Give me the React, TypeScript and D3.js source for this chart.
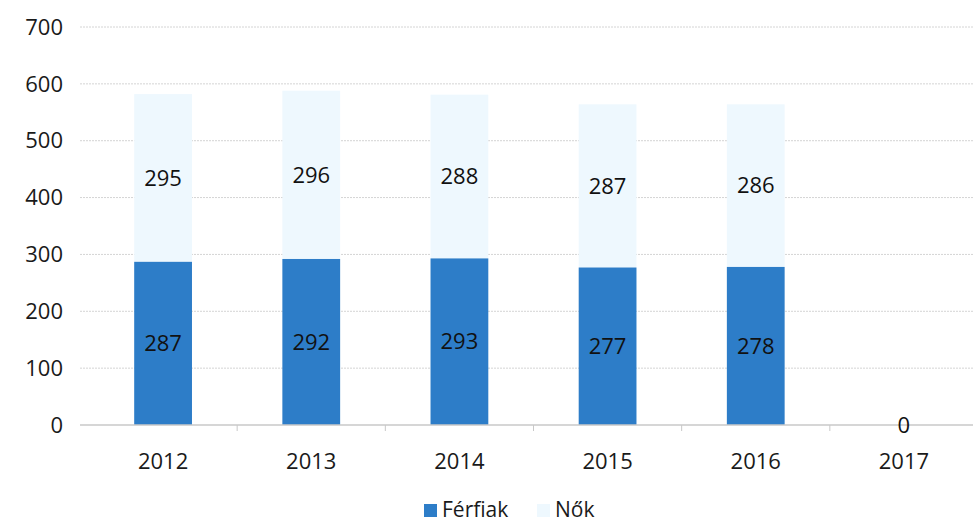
import React, { useEffect, useRef } from "react";
import * as d3 from "d3";

const years = ["2012", "2013", "2014", "2015", "2016", "2017"];
const ferfiak = [287, 292, 293, 277, 278, 0];
const nok = [295, 296, 288, 287, 286, 0];
const yTicks = [0, 100, 200, 300, 400, 500, 600, 700];

const App = () => {
  const svgRef = useRef<SVGSVGElement>(null);

  useEffect(() => {
    const dims = { width: 973, height: 525 };
    const font = "'Open Sans', sans-serif";
    const blue = "#2D7DC8";
    const light = "#EEF8FE";

    const x = d3.scaleBand<string>().domain(years).range([89, 978]).paddingInner(0.61).paddingOuter(0.305);
    const y = d3.scaleLinear().domain([0, 700]).range([425, 27]);

    const svg = d3.select(svgRef.current);
    svg.selectAll("*").remove();

    svg.append("rect").attr("width", dims.width).attr("height", dims.height).attr("fill", "#fff");

    // grid
    svg
      .append("g")
      .selectAll("line")
      .data(yTicks.filter((d) => d > 0))
      .join("line")
      .attr("x1", 80)
      .attr("x2", dims.width)
      .attr("y1", (d) => y(d))
      .attr("y2", (d) => y(d))
      .attr("stroke", "#d4d4d4")
      .attr("stroke-width", 1)
      .attr("stroke-dasharray", "2 1");

    // y labels
    svg
      .append("g")
      .selectAll("text")
      .data(yTicks)
      .join("text")
      .attr("x", 63)
      .attr("y", (d) => y(d))
      .attr("dy", "0.35em")
      .attr("text-anchor", "end")
      .attr("font-family", font)
      .attr("font-size", 22)
      .attr("fill", "#1a1a1a")
      .text((d) => d);

    const rows = years.map((yr, i) => ({ yr, f: ferfiak[i], n: nok[i] }));

    // bars
    const bars = svg.append("g");
    bars
      .selectAll("rect.nok")
      .data(rows)
      .join("rect")
      .attr("class", "nok")
      .attr("x", (d) => x(d.yr)!)
      .attr("width", x.bandwidth())
      .attr("y", (d) => y(d.f + d.n))
      .attr("height", (d) => y(d.f) - y(d.f + d.n))
      .attr("fill", light);
    bars
      .selectAll("rect.ferfi")
      .data(rows)
      .join("rect")
      .attr("class", "ferfi")
      .attr("x", (d) => x(d.yr)!)
      .attr("width", x.bandwidth())
      .attr("y", (d) => y(d.f))
      .attr("height", (d) => y(0) - y(d.f))
      .attr("fill", blue);

    // x axis
    const axis = svg.append("g");
    axis
      .append("line")
      .attr("x1", 80)
      .attr("x2", dims.width)
      .attr("y1", y(0))
      .attr("y2", y(0))
      .attr("stroke", "#c8c8c8")
      .attr("stroke-width", 1.5);
    axis
      .selectAll("line.tick")
      .data(years.slice(1))
      .join("line")
      .attr("class", "tick")
      .attr("x1", (d) => x(d)! - (x.step() - x.bandwidth()) / 2)
      .attr("x2", (d) => x(d)! - (x.step() - x.bandwidth()) / 2)
      .attr("y1", y(0))
      .attr("y2", y(0) + 6)
      .attr("stroke", "#c8c8c8");
    axis
      .selectAll("text")
      .data(years)
      .join("text")
      .attr("x", (d) => x(d)! + x.bandwidth() / 2)
      .attr("y", 461)
      .attr("dy", "0.35em")
      .attr("text-anchor", "middle")
      .attr("font-family", font)
      .attr("font-size", 22)
      .attr("fill", "#1a1a1a")
      .text((d) => d);

    // value labels
    const labels = svg.append("g").attr("font-family", font).attr("font-size", 22).attr("fill", "#111").attr("text-anchor", "middle");
    labels
      .selectAll("text.f")
      .data(rows)
      .join("text")
      .attr("class", "f")
      .attr("x", (d) => x(d.yr)! + x.bandwidth() / 2)
      .attr("y", (d) => (y(0) + y(d.f)) / 2)
      .attr("dy", "0.35em")
      .text((d) => d.f);
    labels
      .selectAll("text.n")
      .data(rows.filter((d) => d.n > 0))
      .join("text")
      .attr("class", "n")
      .attr("x", (d) => x(d.yr)! + x.bandwidth() / 2)
      .attr("y", (d) => (y(d.f) + y(d.f + d.n)) / 2)
      .attr("dy", "0.35em")
      .text((d) => d.n);

    // legend
    const legend = svg.append("g").attr("font-family", font).attr("font-size", 21).attr("fill", "#1a1a1a");
    const items = [
      { name: "Férfiak", color: blue, x: 424 },
      { name: "Nők", color: light, x: 537 },
    ];
    items.forEach((it) => {
      legend.append("rect").attr("x", it.x).attr("y", 504).attr("width", 13).attr("height", 13).attr("fill", it.color);
      legend
        .append("text")
        .attr("x", it.x + 18)
        .attr("y", 510)
        .attr("dy", "0.35em")
        .text(it.name);
    });
  }, []);

  return (
    <svg
      ref={svgRef}
      width={973}
      height={525}
      style={{ position: "absolute", left: 0, top: 0, display: "block" }}
    />
  );
};

export default App;
